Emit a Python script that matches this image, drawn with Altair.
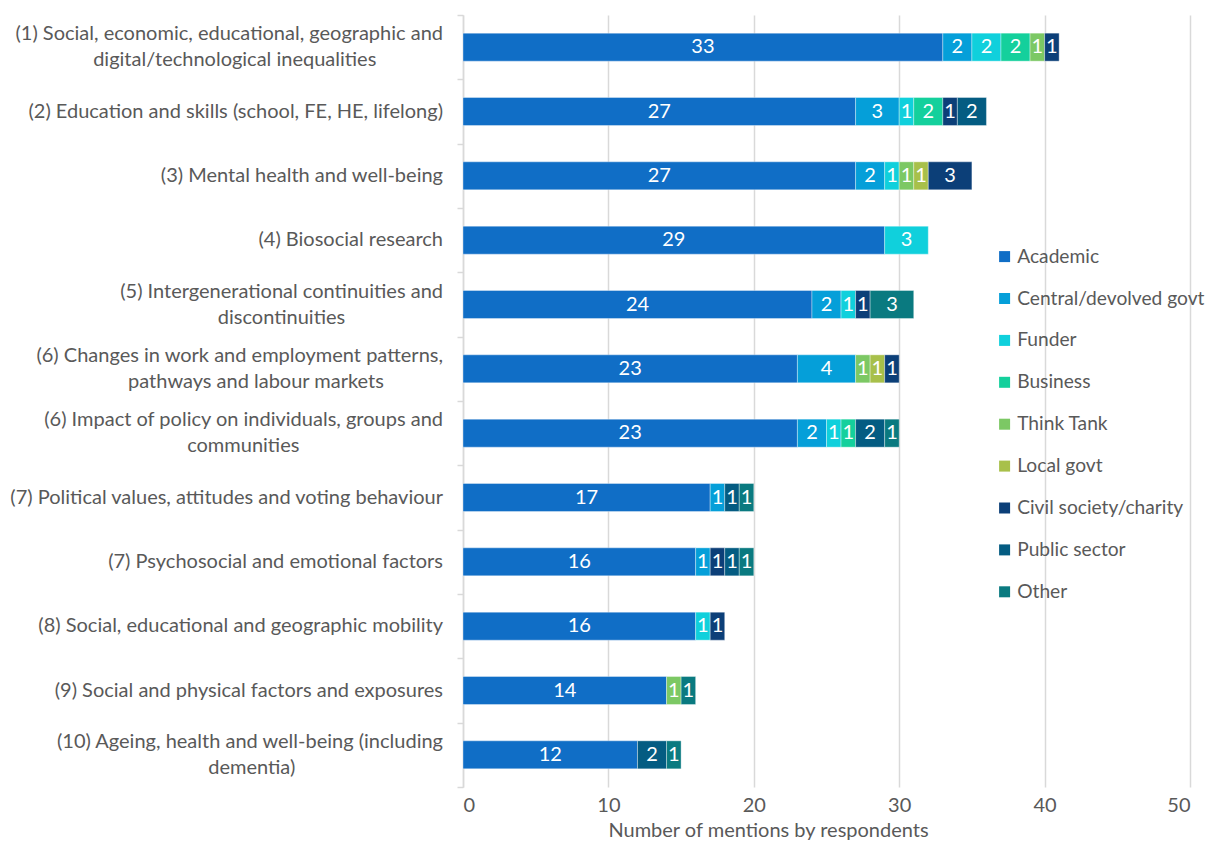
import altair as alt
import pandas as pd

topics = [
    "(1) Social, economic, educational, geographic and|digital/technological inequalities",
    "(2) Education and skills (school, FE, HE, lifelong)",
    "(3) Mental health and well-being",
    "(4) Biosocial research",
    "(5) Intergenerational continuities and|discontinuities",
    "(6) Changes in work and employment patterns,|pathways and labour markets",
    "(6) Impact of policy on individuals, groups and|communities",
    "(7) Political values, attitudes and voting behaviour",
    "(7) Psychosocial and emotional factors",
    "(8) Social, educational and geographic mobility",
    "(9) Social and physical factors and exposures",
    "(10) Ageing, health and well-being (including|dementia)",
]

sectors = ["Academic", "Central/devolved govt", "Funder", "Business", "Think Tank",
           "Local govt", "Civil society/charity", "Public sector", "Other"]
colors = ["#106EC6", "#059FD9", "#10D0DC", "#14D09C", "#7CC864",
          "#A8C04A", "#0C3F78", "#045C82", "#0A7A80"]

academic = [33, 27, 27, 29, 24, 23, 23, 17, 16, 16, 14, 12]
central = [2, 3, 2, 0, 2, 4, 2, 1, 1, 0, 0, 0]
funder = [2, 1, 1, 3, 1, 0, 1, 0, 0, 1, 0, 0]
business = [2, 2, 0, 0, 0, 0, 1, 0, 0, 0, 0, 0]
think_tank = [1, 0, 1, 0, 0, 1, 0, 0, 0, 0, 1, 0]
local_govt = [0, 0, 1, 0, 0, 1, 0, 0, 0, 0, 0, 0]
civil = [1, 1, 3, 0, 1, 1, 0, 0, 1, 1, 0, 0]
public = [0, 2, 0, 0, 0, 0, 2, 1, 1, 0, 0, 2]
other = [0, 0, 0, 0, 3, 0, 1, 1, 1, 0, 1, 1]

x_ticks = [0, 10, 20, 30, 40, 50]

series = [academic, central, funder, business, think_tank, local_govt, civil, public, other]

rows = []
for i, t in enumerate(topics):
    for j, s in enumerate(sectors):
        v = series[j][i]
        if v > 0:
            rows.append({"topic": t, "sector": s, "order": j, "value": v})
df = pd.DataFrame(rows)

lab_rows = []
for t in topics:
    parts = t.split("|")
    lab_rows.append({"topic": t, "line1": parts[0],
                     "line2": parts[1] if len(parts) > 1 else "", "n": len(parts)})
labdf = pd.DataFrame(lab_rows)

GRAY = "#595959"
GRID = "#d9d9d9"
FONT = "Lato"
FS = 20

xscale = alt.Scale(domain=[0, 50], nice=False)
xaxis = alt.Axis(values=x_ticks, title="Number of mentions by respondents",
                 grid=True, gridColor=GRID, gridWidth=1.5, ticks=False,
                 domain=False, labelFontSize=FS, labelColor=GRAY,
                 labelFont=FONT, labelPadding=8, titleFontSize=FS,
                 titleColor=GRAY, titleFont=FONT, titleFontWeight="normal",
                 titleX=305, titleY=33, titleAlign="center",
                 titleBaseline="top")
yaxis = alt.Axis(labels=False, title=None, tickBand="extent",
                 tickColor=GRID, tickSize=6, tickWidth=1.5,
                 domainColor=GRID, domainWidth=1.5, grid=False)
yscale = alt.Scale(paddingInner=0, paddingOuter=0)
yenc = alt.Y("topic:N", sort=topics, scale=yscale, axis=yaxis)

base = alt.Chart(df).transform_stack(
    stack="value", groupby=["topic"], sort=[alt.SortField("order")], as_=["x0", "x1"]
).transform_calculate(mid="(datum.x0 + datum.x1) / 2")

bars = base.mark_bar(size=28, stroke="white", strokeWidth=0.8, strokeOpacity=0.45).encode(
    x=alt.X("x0:Q", scale=xscale, axis=xaxis),
    x2="x1:Q",
    y=yenc,
    color=alt.Color("sector:N", scale=alt.Scale(domain=sectors, range=colors),
                    legend=alt.Legend(orient="none", legendX=532, legendY=232,
                                      title=None, symbolType="square", symbolSize=121,
                                      symbolStrokeWidth=0, labelFontSize=19.2,
                                      labelColor=GRAY, labelFont=FONT, rowPadding=21.9,
                                      labelOffset=3, padding=0, labelLimit=300)),
)

nums = base.mark_text(color="white", fontSize=FS, font=FONT).encode(
    x=alt.X("mid:Q", scale=xscale, axis=xaxis), y=yenc, text="value:Q"
)

main = alt.layer(bars, nums)

lab = alt.Chart(labdf)
single = lab.transform_filter("datum.n == 1").mark_text(
    align="right", baseline="middle", fontSize=FS, font=FONT, color=GRAY
).encode(x=alt.value(-20), y=yenc, text="line1:N")
first = lab.transform_filter("datum.n == 2").mark_text(
    align="right", baseline="middle", fontSize=FS, font=FONT, color=GRAY, dy=-13
).encode(x=alt.value(-20), y=yenc, text="line1:N")
second = lab.transform_filter("datum.n == 2").transform_calculate(
    cx="-20 - length(datum.line1) * 8.5 / 2"
).mark_text(
    align="center", baseline="middle", fontSize=FS, font=FONT, color=GRAY, dy=13
).encode(x=alt.X("cx:Q", scale=None, axis=None), y=yenc, text="line2:N")

labels = alt.layer(single, first, second)

chart = alt.layer(main, labels).resolve_scale(
    x="independent"
).properties(
    width=727, height=772, autosize="none",
    padding={"left": 455, "top": 7, "right": 19, "bottom": 53},
).configure_view(stroke=None)

chart.save("out.html", embed_options={"renderer": "svg", "actions": False})
